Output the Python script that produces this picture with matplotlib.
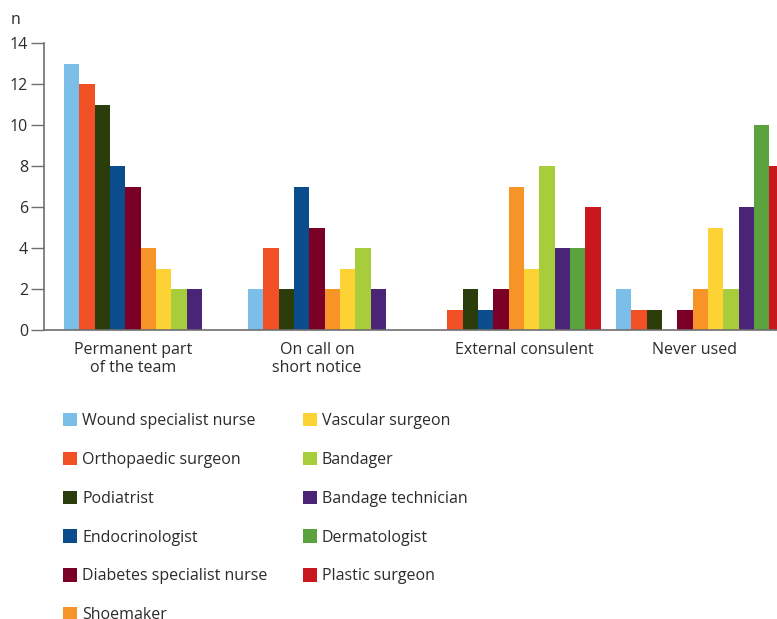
import numpy as np
import matplotlib.pyplot as plt
from matplotlib.patches import Patch

# categories on the x axis
groups = ['Permanent part\nof the team', 'On call on\nshort notice', 'External consulent', 'Never used']

# professions (legend order)
roles = ['Wound specialist nurse', 'Orthopaedic surgeon', 'Podiatrist', 'Endocrinologist',
         'Diabetes specialist nurse', 'Shoemaker', 'Vascular surgeon', 'Bandager',
         'Bandage technician', 'Dermatologist', 'Plastic surgeon']

colors = ['#7bbee8', '#f05024', '#2b3d0b', '#0b4d8c', '#7a0025', '#f79427',
          '#fdd235', '#a8cd3a', '#4a2476', '#5aa23d', '#c8171f']

# counts per role, one value per group
wound_nurse = [13, 2, 0, 2]
ortho = [12, 4, 1, 1]
podiatrist = [11, 2, 2, 1]
endo = [8, 7, 1, 0]
diabetes_nurse = [7, 5, 2, 1]
shoemaker = [4, 2, 7, 2]
vascular = [3, 3, 3, 5]
bandager = [2, 4, 8, 2]
bandage_tech = [2, 2, 4, 6]
dermatologist = [0, 0, 4, 10]
plastic = [0, 0, 6, 8]

values = np.array([wound_nurse, ortho, podiatrist, endo, diabetes_nurse, shoemaker,
                   vascular, bandager, bandage_tech, dermatologist, plastic])

plt.rcParams['font.family'] = ['Open Sans', 'DejaVu Sans']
text_col = '#2b2b2b'
axis_col = '#6e6e6e'

fig = plt.figure(figsize=(7.77, 6.19), dpi=100)
ax = fig.add_axes([44 / 777, 289 / 619, 733 / 777, 287 / 619])

n_roles = len(roles)
step = n_roles + 1
for k in range(n_roles):
    xs = np.arange(len(groups)) * step + k
    ax.bar(xs, values[k], width=1.0, align='edge', color=colors[k], linewidth=0)

# group labels centred over the span of non-zero bars
label_x = []
for g in range(len(groups)):
    nz = np.nonzero(values[:, g])[0]
    label_x.append(g * step + (nz.min() + nz.max() + 1) / 2)
label_x[-1] -= 0.35  # last label sits a bit left (chart is cropped)
ax.set_xticks(label_x)
ax.set_xticklabels(groups, fontsize=11.5, color=text_col, linespacing=1.15)
ax.tick_params(axis='x', length=0, pad=9)

ax.set_xlim(-1.3, 46.5)
ax.set_ylim(0, 14)
ax.set_yticks(range(0, 15, 2))
ax.tick_params(axis='y', direction='out', length=9.5, width=1, color=axis_col,
               labelsize=11.5, labelcolor=text_col, pad=2)

for s in ['top', 'right']:
    ax.spines[s].set_visible(False)
for s in ['left', 'bottom']:
    ax.spines[s].set_color(axis_col)
    ax.spines[s].set_linewidth(1.2)

fig.text(15 / 777, 1 - 20 / 619, 'n', fontsize=11.5, color=text_col, ha='center', va='center')

handles = [Patch(facecolor=c, edgecolor='none') for c in colors]
fig.legend(handles, roles, loc='upper left', bbox_to_anchor=(63 / 777, 1 - 413 / 619),
           ncol=2, frameon=False, fontsize=11.5, handlelength=0.9, handleheight=0.9,
           handletextpad=0.3, labelspacing=1.42, columnspacing=2.2, borderpad=0,
           borderaxespad=0, labelcolor=text_col)

fig.savefig('out.png', dpi=100)
